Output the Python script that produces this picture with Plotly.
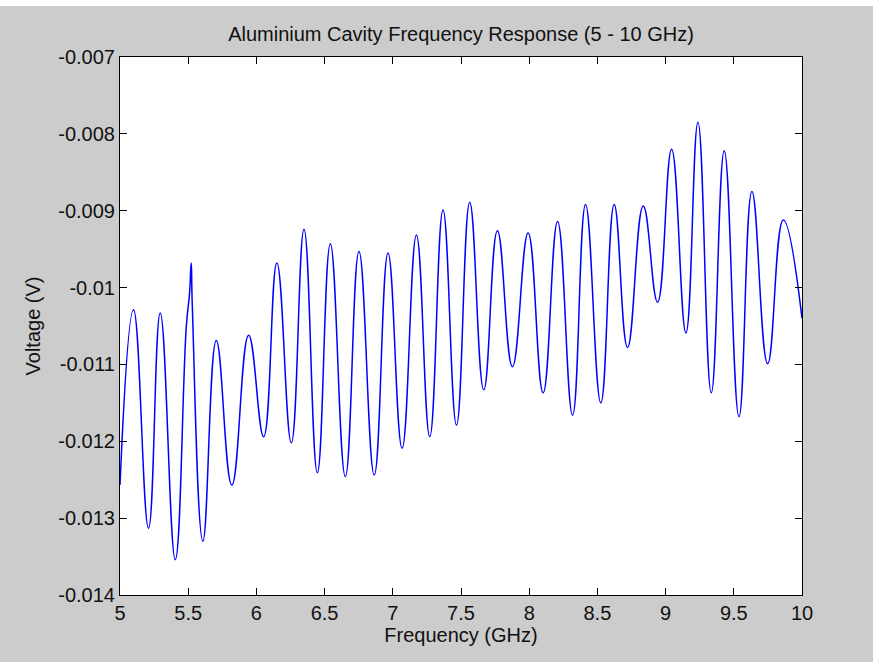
import plotly.graph_objects as go

# extrema (GHz, V)
freq_ghz = [5.000, 5.099, 5.209, 5.295, 5.405, 5.486, 5.510, 5.522, 5.530, 5.608,
            5.706, 5.820, 5.943, 6.053, 6.150, 6.256, 6.349, 6.447, 6.542, 6.652,
            6.752, 6.864, 6.965, 7.068, 7.173, 7.271, 7.368, 7.467, 7.564, 7.667,
            7.767, 7.877, 7.992, 8.102, 8.208, 8.318, 8.413, 8.525, 8.623, 8.721,
            8.836, 8.941, 9.044, 9.149, 9.237, 9.335, 9.430, 9.538, 9.633, 9.748,
            9.863, 10.000]
voltage = [-0.01257, -0.01029, -0.01313, -0.01033, -0.01354, -0.01051, -0.01007, -0.00968, -0.01023, -0.01330,
           -0.01069, -0.01257, -0.01062, -0.01194, -0.00968, -0.01202, -0.00924, -0.01241, -0.00943, -0.01246,
           -0.00953, -0.01244, -0.00955, -0.01209, -0.00932, -0.01194, -0.00899, -0.01179, -0.00889, -0.01133,
           -0.00926, -0.01103, -0.00929, -0.01137, -0.00914, -0.01166, -0.00892, -0.01150, -0.00892, -0.01078,
           -0.00894, -0.01019, -0.00820, -0.01059, -0.00785, -0.01137, -0.00822, -0.01168, -0.00875, -0.01099,
           -0.00912, -0.01040]

x_ticks = [5, 5.5, 6, 6.5, 7, 7.5, 8, 8.5, 9, 9.5, 10]
x_labels = ["5", "5.5", "6", "6.5", "7", "7.5", "8", "8.5", "9", "9.5", "10"]
y_ticks = [-0.007, -0.008, -0.009, -0.010, -0.011, -0.012, -0.013, -0.014]
y_labels = ["-0.007", "-0.008", "-0.009", "-0.01", "-0.011", "-0.012", "-0.013", "-0.014"]

FONT = "Liberation Sans, Arial, sans-serif"
TXT = dict(family=FONT, size=20, color="#111")

fig = go.Figure()
fig.add_trace(go.Scatter(
    x=freq_ghz, y=voltage, mode="lines",
    line=dict(color="#0000ff", width=1.5, shape="spline", smoothing=1.3),
    hoverinfo="x+y", showlegend=False,
))

axis_common = dict(
    showline=True, linecolor="black", linewidth=1, mirror="ticks",
    ticks="inside", ticklen=7, tickcolor="black", tickwidth=1,
    showgrid=False, zeroline=False, tickfont=TXT,
)

fig.update_xaxes(range=[5, 10], tickvals=x_ticks, ticktext=x_labels,
                 title=dict(text="Frequency (GHz)", font=TXT, standoff=4),
                 **axis_common)
fig.update_yaxes(range=[-0.014, -0.007], tickvals=y_ticks, ticktext=y_labels,
                 title=dict(text="Voltage (V)", font=TXT, standoff=12),
                 **axis_common)

fig.update_layout(
    width=873, height=662,
    margin=dict(l=120, r=71, t=57, b=67),
    paper_bgcolor="#cccccc", plot_bgcolor="white",
    title=dict(text="Aluminium Cavity Frequency Response (5 - 10 GHz)",
               font=TXT, x=0.5, xref="paper", y=1 - 34 / 662, yanchor="middle"),
    # thin white band along the top of the screenshot
    shapes=[dict(type="rect", xref="paper", yref="paper", x0=-0.2, x1=1.2,
                 y0=1 + 51 / 538, y1=1.2, fillcolor="white", line=dict(width=0), layer="above")],
)

fig.write_html("out.html", config={"displayModeBar": False},
               post_script="document.body.style.margin='0';")
